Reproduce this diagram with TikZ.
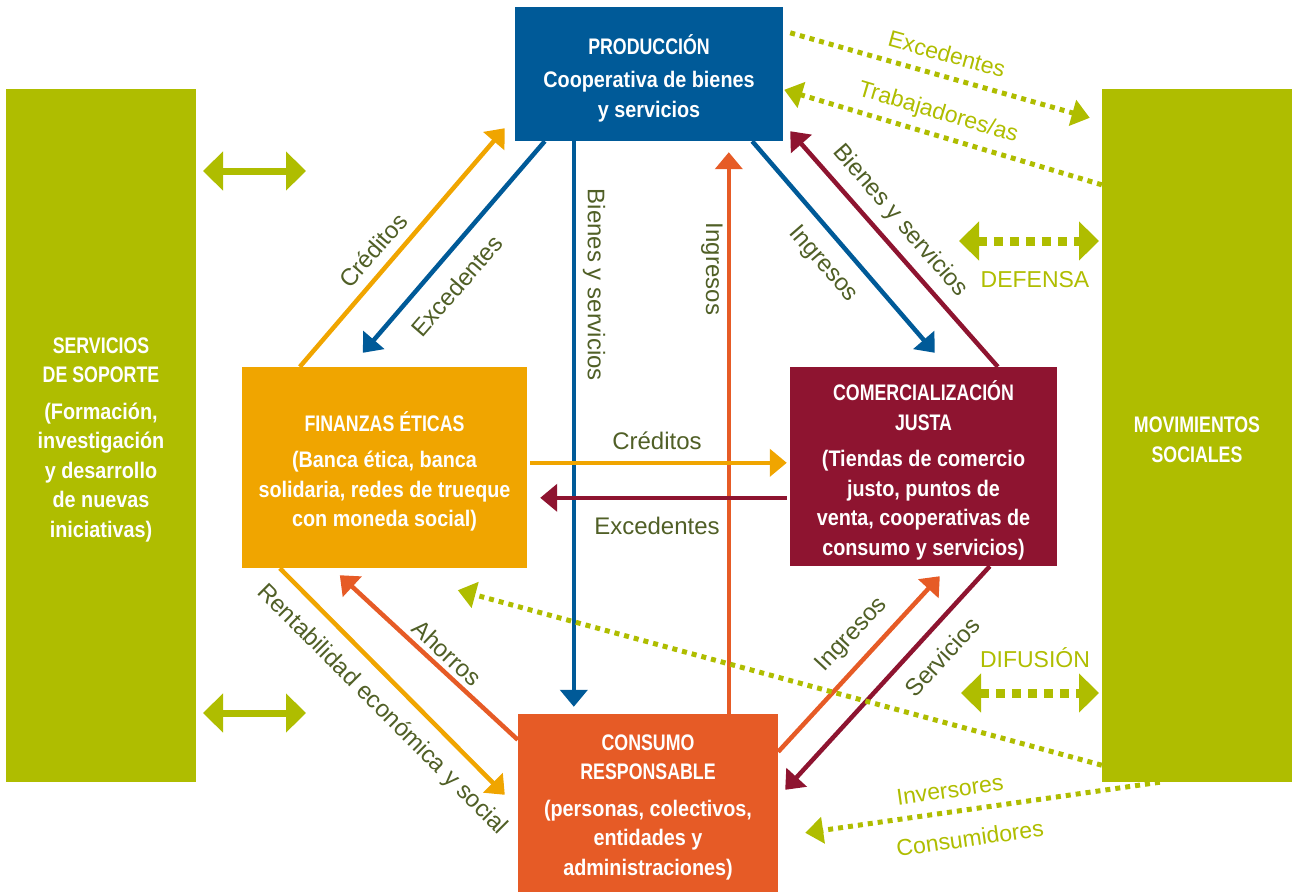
\documentclass[tikz,border=0pt]{standalone}
\usepackage{fontspec}
\setmainfont{Liberation Sans}
\newfontfamily\boxfont[FakeStretch=0.88]{Liberation Sans}
\newfontfamily\titlefont[FakeStretch=0.79]{Liberation Sans}
\newcommand\boxtitle[1]{{\titlefont\bfseries\fontsize{22.5}{29.5}\selectfont #1}}
\usetikzlibrary{arrows.meta,calc}
\definecolor{cblue}{RGB}{0,90,152}
\definecolor{cgreen}{RGB}{175,189,0}
\definecolor{corange}{RGB}{240,165,0}
\definecolor{cred}{RGB}{142,20,48}
\definecolor{cor}{RGB}{230,91,38}
\definecolor{colive}{RGB}{80,95,38}
\begin{document}
\begin{tikzpicture}[x=1pt,y=-1pt,
 box/.style={draw=none,inner sep=0pt},
 boxtxt/.style={inner sep=0pt,text=white,align=center,font=\boxfont\bfseries\fontsize{22.5}{29.5}\selectfont},
 flow/.style={line width=4.5pt,-{Triangle[length=17pt,width=27pt]}},
 lbl/.style={text=colive,font=\fontsize{24}{28}\selectfont,inner sep=0pt},
 glbl/.style={text=cgreen,font=\fontsize{23}{28}\selectfont,inner sep=0pt},
 dots/.style={cgreen,line width=5pt,dash pattern=on 5pt off 5pt,-{Triangle[length=18pt,width=26pt]}},
 bigdots/.style={cgreen,line width=9pt,dash pattern=on 9pt off 7pt,{Triangle[length=20pt,width=38pt]}-{Triangle[length=20pt,width=38pt]}},
 dbl/.style={cgreen,line width=7pt,{Triangle[length=20pt,width=38pt]}-{Triangle[length=20pt,width=38pt]}}
]
\useasboundingbox (0,0) rectangle (1292,892);

% boxes
\node[box,fill=cblue,minimum width=268pt,minimum height=134pt] (prod) at (649,74) {};
\node[box,fill=cgreen,minimum width=190pt,minimum height=693pt] (sop) at (101,435.5) {};
\node[box,fill=cgreen,minimum width=190pt,minimum height=693pt] (mov) at (1197,435.5) {};
\node[box,fill=corange,minimum width=285pt,minimum height=201pt] (fin) at (384.5,467.5) {};
\node[box,fill=cred,minimum width=267pt,minimum height=199pt] (com) at (923.5,466.5) {};
\node[box,fill=cor,minimum width=260pt,minimum height=178pt] (con) at (648,803) {};

% box texts
\node[boxtxt] (prodT) at ($(prod.center)+(0,4)$)
  {\boxtitle{PRODUCCIÓN}\\[4pt]Cooperativa de bienes\\y servicios};
\node[boxtxt] (sopT) at ($(sop.center)+(0,4)$)
  {\boxtitle{SERVICIOS}\\\boxtitle{DE SOPORTE}\\[7pt](Formación,\\investigación\\y desarrollo\\de nuevas\\iniciativas)};
\node[boxtxt] (movT) at ($(mov.center)+(0,4)$)
  {\boxtitle{MOVIMIENTOS}\\\boxtitle{SOCIALES}};
\node[boxtxt] (finT) at ($(fin.center)+(0,4)$)
  {\boxtitle{FINANZAS ÉTICAS}\\[7pt](Banca ética, banca\\solidaria, redes de trueque\\con moneda social)};
\node[boxtxt] (comT) at ($(com.center)+(0,4)$)
  {\boxtitle{COMERCIALIZACIÓN}\\\boxtitle{JUSTA}\\[7pt](Tiendas de comercio\\justo, puntos de\\venta, cooperativas de\\consumo y servicios)};
\node[boxtxt] (conT) at ($(con.center)+(0,4)$)
  {\boxtitle{CONSUMO}\\\boxtitle{RESPONSABLE}\\[7pt](personas, colectivos,\\entidades y\\administraciones)};

% free ends
\coordinate (la1) at (203,171); \coordinate (lb1) at (306,171);
\coordinate (la2) at (203,713); \coordinate (lb2) at (306,713);
\coordinate (defL) at (959,241); \coordinate (defR) at (1099,241);
\coordinate (difL) at (961,693); \coordinate (difR) at (1099,693);

% solid flows
\draw[flow,corange] ($(fin.north west)+(58,0)$) -- ($(prod.south west)+(-10,-13)$);
\draw[flow,cblue] ($(prod.south west)+(30,0)$) -- ($(fin.north west)+(121,-14)$);
\draw[flow,cblue] ($(prod.south west)+(59,0)$) -- ($(con.north west)+(56,-7)$);
\draw[flow,cor] ($(con.north west)+(211,0)$) -- ($(prod.south west)+(214,11)$);
\draw[flow,cblue] ($(prod.south east)+(-31,0)$) -- ($(com.north west)+(145,-14)$);
\draw[flow,cred] ($(com.north west)+(208,0)$) -- ($(prod.south east)+(7,-10)$);
\draw[flow,corange] ($(fin.north east)+(3,96)$) -- ($(com.north west)+(-3,96)$);
\draw[flow,cred] ($(com.north west)+(-3,131)$) -- ($(fin.north east)+(13,131)$);
\draw[flow,corange] ($(fin.south west)+(38,0)$) -- ($(con.north west)+(-13,81)$);
\draw[flow,cor] ($(con.north west)+(0,26)$) -- ($(fin.south west)+(98,7)$);
\draw[flow,cor] ($(con.north east)+(0,38)$) -- ($(com.south west)+(150,10)$);
\draw[flow,cred] ($(com.south west)+(200,0)$) -- ($(con.north east)+(7,76)$);

% left double arrows
\draw[dbl] (la1) -- (lb1);
\draw[dbl] (la2) -- (lb2);

% green dotted
\draw[dots] ($(prod.north east)+(7,26)$) -- ($(mov.north west)+(-12,29)$);
\draw[dots] ($(mov.north west)+(0,96)$) -- ($(prod.north east)+(1,83)$);
\draw[bigdots] (defL) -- (defR);
\draw[bigdots] (difL) -- (difR);
\draw[dots] ($(mov.south west)+(0,-17)$) -- ($(fin.south west)+(216,22)$);
\draw[dots] ($(mov.south west)+(58,0)$) -- ($(con.north east)+(27,119)$);

% labels
\node[lbl,rotate=49] (t1) at (373,250) {Créditos};
\node[lbl,rotate=49] (t2) at (457,286) {Excedentes};
\node[lbl,rotate=-90] (t3) at (594,285) {Bienes y servicios};
\node[lbl,rotate=-90] (t4) at (712,269) {Ingresos};
\node[lbl,rotate=-49] (t5) at (823,264) {Ingresos};
\node[lbl,rotate=-49] (t6) at (900,221) {Bienes y servicios};
\node[lbl] (t7) at (657,441) {Créditos};
\node[lbl] (t8) at (657,526) {Excedentes};
\node[lbl,rotate=-45] (t9) at (382,710) {Rentabilidad económica y social};
\node[lbl,rotate=-43] (t10) at (447,653) {Ahorros};
\node[lbl,rotate=47] (t11) at (852,635) {Ingresos};
\node[lbl,rotate=47.5] (t12) at (942,657) {Servicios};
\node[glbl,rotate=-15.5] (g1) at (947,54) {Excedentes};
\node[glbl,rotate=-16.5] (g2) at (938,113) {Trabajadores/as};
\node[glbl] (g3) at (1035,280) {DEFENSA};
\node[glbl] (g4) at (1035,658) {DIFUSIÓN};
\node[glbl,rotate=8] (g5) at (950,790) {Inversores};
\node[glbl,rotate=8] (g6) at (970,838) {Consumidores};
\end{tikzpicture}
\end{document}
